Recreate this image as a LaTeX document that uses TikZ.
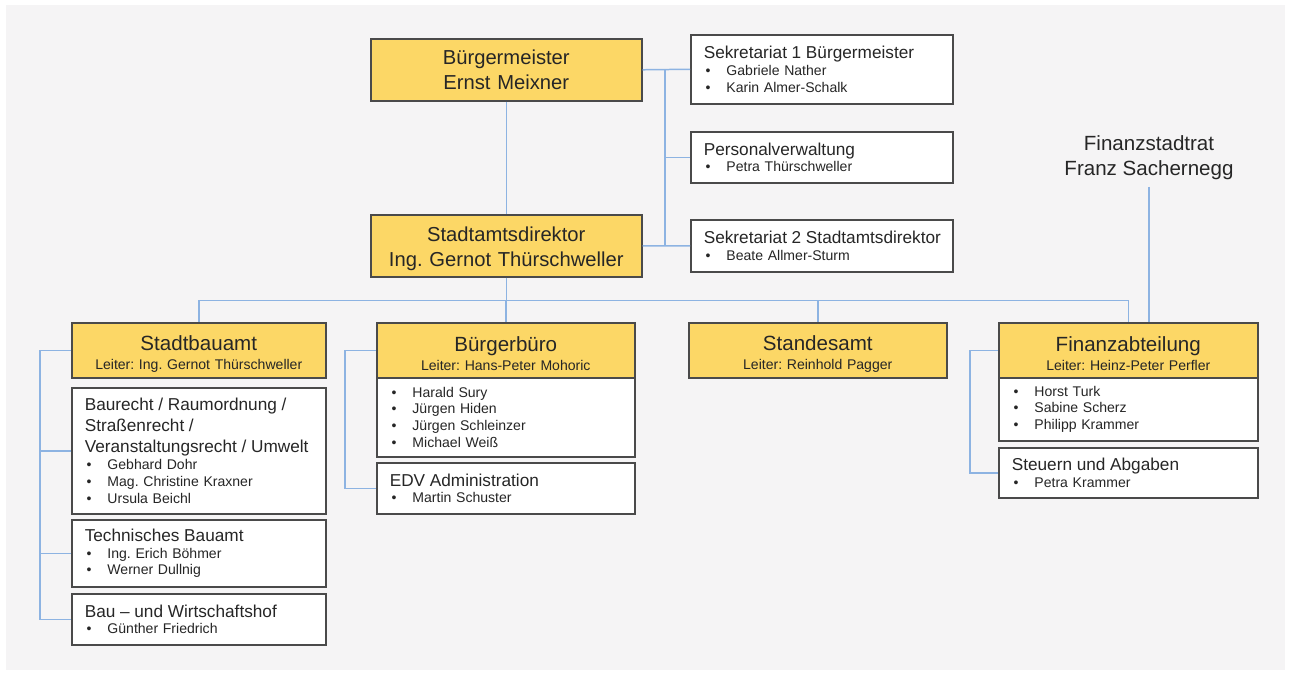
\documentclass[tikz,border=0pt]{standalone}
\usepackage{fontspec}
\setmainfont{Liberation Sans}
\usepackage{tikz}
\usepackage{xcolor}
\definecolor{gold}{HTML}{FCD766}
\definecolor{linkblue}{HTML}{8DB3E2}
\definecolor{panel}{HTML}{F5F4F5}
\definecolor{frame}{HTML}{4A4A4A}
\frenchspacing
\newcommand{\pers}[1]{\hspace*{1pt}\makebox[11.9pt][l]{\textbullet}#1}
\newcommand{\ttl}[1]{{\fontsize{9.8}{11.9}\selectfont\mbox{#1}}}
\newcommand{\hd}[1]{{\fontsize{11.7}{14}\selectfont\rule{0pt}{12.5pt}#1}}

\begin{document}
\begin{tikzpicture}[x=0.02cm, y=-0.02cm]
		\tikzstyle{box}=[draw=frame, line width=0.9pt, fill=white, anchor=north west, inner xsep=0.26cm, inner ysep=0pt, align=left, font=\fontsize{8}{9.6}\selectfont, text=black!85]
		\tikzstyle{head}=[box, fill=gold, align=center, minimum height=1.10cm]
		\tikzstyle{chief}=[box, fill=gold, align=center, text width=4.90cm, minimum height=1.24cm, font=\fontsize{11.5}{14.2}\selectfont]
		\tikzstyle{link}=[draw=linkblue, line width=0.85pt]

		% Background
		\useasboundingbox (0,0) rectangle (1290,675);
		\fill[panel] (6,5) rectangle (1285,670);

		% Draw top level
		\node[chief] (bm) at (370,38) {Bürgermeister\\Ernst Meixner};
		\node[chief] (sad) at (370,214) {\rule{0pt}{11.8pt}Stadtamtsdirektor\\Ing. Gernot Thürschweller};
		\node[box, text width=4.72cm, minimum height=1.38cm] (sek1) at (690,34) {\ttl{Sekretariat 1 Bürgermeister}\\\pers{Gabriele Nather}\\\pers{Karin Almer-Schalk}};
		\node[box, text width=4.72cm, minimum height=1.02cm] (personal) at (690,131) {\ttl{Personalverwaltung}\\\pers{Petra Thürschweller}};
		\node[box, text width=4.72cm, minimum height=1.04cm] (sek2) at (690,219) {\ttl{Sekretariat 2 Stadtamtsdirektor}\\\pers{Beate Allmer-Sturm}};
		\node[anchor=south, align=center, inner sep=4pt, text=black!85, font=\fontsize{11.7}{14.2}\selectfont] (rat) at (1149,187) {Finanzstadtrat\\Franz Sachernegg};

		% Draw departments
		\node[head, text width=4.56cm] (bauamt) at (71,322) {\hd{Stadtbauamt}\\[1pt]Leiter: Ing. Gernot Thürschweller};
		\node[box, text width=4.56cm, minimum height=2.52cm] (baurecht) at (71,387) {\ttl{Baurecht / Raumordnung /}\\[2.3pt]\ttl{Straßenrecht /}\\[2.3pt]\ttl{Veranstaltungsrecht / Umwelt}\\\pers{Gebhard Dohr}\\\pers{Mag. Christine Kraxner}\\\pers{Ursula Beichl}};
		\node[box, text width=4.56cm, minimum height=1.34cm] (technik) at (71,519) {\ttl{Technisches Bauamt}\\\pers{Ing. Erich Böhmer}\\\pers{Werner Dullnig}};
		\node[box, text width=4.56cm, minimum height=1.02cm] (bauhof) at (71,593) {\ttl{Bau – und Wirtschaftshof}\\\pers{Günther Friedrich}};

		\node[head, text width=4.64cm] (buero) at (376,322) {\hd{Bürgerbüro}\\[1pt]Leiter: Hans-Peter Mohoric};
		\node[box, text width=4.64cm, minimum height=1.58cm] (bueroteam) at (376,377) {\pers{Harald Sury}\\\pers{Jürgen Hiden}\\\pers{Jürgen Schleinzer}\\\pers{Michael Weiß}};
		\node[box, text width=4.64cm, minimum height=1.02cm] (edv) at (376,462) {\ttl{EDV Administration}\\\pers{Martin Schuster}};

		\node[head, text width=4.64cm] (standes) at (688,322) {\hd{Standesamt}\\[1pt]Leiter: Reinhold Pagger};

		\node[head, text width=4.66cm] (finanz) at (998,322) {\hd{Finanzabteilung}\\[1pt]Leiter: Heinz-Peter Perfler};
		\node[box, text width=4.66cm, minimum height=1.26cm] (finanzteam) at (998,377) {\pers{Horst Turk}\\\pers{Sabine Scherz}\\\pers{Philipp Krammer}};
		\node[box, text width=4.66cm, minimum height=1.00cm] (steuern) at (998,447) {\ttl{Steuern und Abgaben}\\\pers{Petra Krammer}};

		% Draw lines
		\coordinate (rbus) at (665,0);
		\coordinate (lbus1) at (40,0);
		\coordinate (lbus2) at (345,0);
		\coordinate (lbus3) at (970,0);

		\path[link] (bm) edge (sad);
		\draw[link] (sad.south) -- ++(0,23) coordinate (bus);
		\draw[link] (bus) -| (bauamt.north);
		\draw[link] (bus) -| (buero.north);
		\draw[link] (bus) -| (standes.north);
		\draw[link] (bus) -| (finanz.north);
		\draw[link] (bm.east) -- (sek1.west);
		\draw[link] (sad.east) -- (sek2.west);
		\draw[link] (bm.east -| rbus) -- (sad.east -| rbus);
		\draw[link] (personal.west) -- (personal.west -| rbus);
		\draw[link] (rat.south) -- (rat.south |- finanz.north);

		\draw[link] (bauamt.west) -- (bauamt.west -| lbus1) |- (bauhof.west);
		\foreach \n in {baurecht,technik}
			\draw[link] (\n.west) -- (\n.west -| lbus1);
		\draw[link] (buero.west) -- (buero.west -| lbus2) |- (edv.west);
		\draw[link] (finanz.west) -- (finanz.west -| lbus3) |- (steuern.west);

\end{tikzpicture}
\end{document}
